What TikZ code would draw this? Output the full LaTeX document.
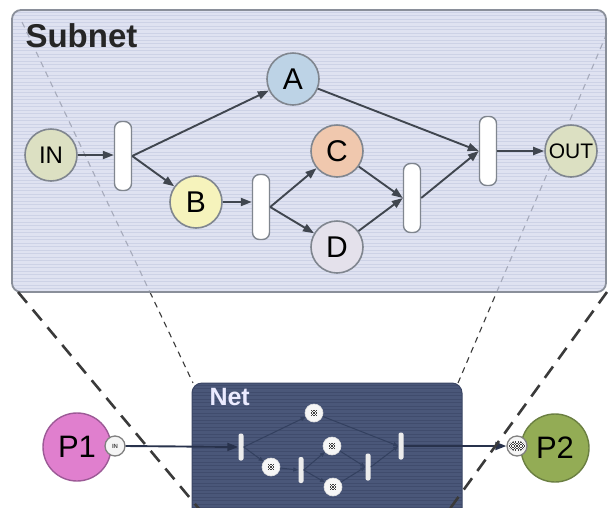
\documentclass[tikz,border=0pt]{standalone}
\usepackage{fontspec}
\setmainfont{Liberation Sans}
\usetikzlibrary{arrows.meta}

\definecolor{subfill}{HTML}{DFE2F1}
\definecolor{substripe}{HTML}{CDD2E6}
\definecolor{subedge}{HTML}{8A8F9A}
\definecolor{netfill}{HTML}{4A5779}
\definecolor{netstripe}{HTML}{404C6D}
\definecolor{netedge}{HTML}{3A4564}
\definecolor{arccol}{HTML}{40464F}
\definecolor{placeedge}{HTML}{80868F}
\definecolor{inoutfill}{HTML}{DCE0C2}
\definecolor{pafill}{HTML}{BDD3E6}
\definecolor{pbfill}{HTML}{F6F3BC}
\definecolor{pcfill}{HTML}{F0C8AE}
\definecolor{pdfill}{HTML}{E4E1EB}
\definecolor{ponefill}{HTML}{E07FCE}
\definecolor{poneedge}{HTML}{9C5A96}
\definecolor{ptwofill}{HTML}{93AC55}
\definecolor{ptwoedge}{HTML}{6B7F42}
\definecolor{netarc}{HTML}{33405F}
\definecolor{linkcol}{HTML}{28324C}
\definecolor{zoomline}{HTML}{3A3A3A}
\definecolor{zoomfaint}{HTML}{A6AABB}

% small checkered token mark: centre, half columns, half rows, cell size
\newcommand\chequermark[4]{%
  \begin{scope}[shift={(#1)}]
    \foreach \i in {-#2,...,#2}{%
      \foreach \j in {-#3,...,#3}{%
        \pgfmathtruncatemacro\chqparity{mod(\i+\j+100,2)}%
        \ifnum\chqparity=0
          \fill[black!75] (\i*#4-#4/2,\j*#4-#4/2) rectangle ++(#4,#4);
        \fi}}
  \end{scope}}

\begin{document}
\begin{tikzpicture}[x=1pt,y=-1pt,
  place/.style={circle, draw=placeedge, line width=1.6pt, minimum size=52pt,
    inner sep=0pt, font=\fontsize{30}{30}\selectfont},
  trans/.style={draw=placeedge, fill=white, line width=1.4pt, rounded corners=7pt,
    minimum width=17pt, minimum height=69pt, inner sep=0pt},
  flow/.style={draw=arccol, line width=1.9pt, -{Triangle[length=11pt,width=8pt]}},
  miniplace/.style={circle, fill=white!93!gray, draw=white!75!gray, line width=0.6pt,
    minimum size=18pt, inner sep=0pt},
  minitrans/.style={fill=white!85!gray, rounded corners=2pt, minimum width=5pt,
    minimum height=27pt, inner sep=0pt},
  miniflow/.style={draw=netarc, line width=1pt, -{Triangle[length=5pt,width=4pt]}},
  link/.style={draw=linkcol, line width=1.9pt, -{Triangle[length=11pt,width=8pt]}},
  thinzoom/.style={dash pattern=on 6pt off 5pt, line width=1.1pt},
  thickzoom/.style={draw=zoomline, dash pattern=on 14pt off 9pt, line width=2.6pt},
  bigplace/.style={circle, line width=1.4pt, minimum size=68pt, inner sep=0pt,
    font=\fontsize{31}{31}\selectfont},
  port/.style={circle, fill=white!92!gray, draw=gray, line width=1.3pt,
    minimum size=20pt, inner sep=0pt}
]
\clip (0,0) rectangle (608,507);

% ---------- subnet panel ----------
\fill[subfill, rounded corners=9pt] (12,10) rectangle (606,292);
\begin{scope}
  \clip[rounded corners=9pt] (12,10) rectangle (606,292);
  \foreach \y in {12,15.5,...,292} \draw[substripe, line width=0.9pt] (12,\y) -- (606,\y);
\end{scope}

% projection lines (thin), faint where they cross the panel
\coordinate (sl) at (22,22);
\coordinate (sr) at (607,33);
\coordinate (nl) at (193,383);
\coordinate (nr) at (458,383);
\path (sl) -- (nl) coordinate[pos=0.748] (bl);
\path (nr) -- (sr) coordinate[pos=0.26] (br);
\draw[thinzoom, zoomfaint] (sl) -- (bl);
\draw[thinzoom, zoomfaint] (br) -- (sr);
\draw[thinzoom, zoomline] (bl) -- (nl);
\draw[thinzoom, zoomline] (nr) -- (br);

\draw[subedge, line width=1.8pt, rounded corners=9pt] (12,10) rectangle (606,292);
\node[anchor=base west, font=\bfseries\fontsize{33}{33}\selectfont, text=black!85]
  (subtitle) at (22,47) {Subnet};

% places and transitions of the subnet
\node[place, fill=inoutfill, font=\fontsize{24}{24}\selectfont] (in) at (51,155) {IN};
\node[trans] (t1) at (123,156) {};
\node[place, fill=pafill] (a) at (293,79) {A};
\node[place, fill=pbfill] (b) at (196,202) {B};
\node[trans, minimum height=65pt] (t2) at (261,207) {};
\node[place, fill=pcfill] (c) at (337,151) {C};
\node[place, fill=pdfill] (d) at (337,247) {D};
\node[trans] (t3) at (412,198) {};
\node[trans] (t4) at (488,151) {};
\node[place, fill=inoutfill, font=\fontsize{21}{21}\selectfont] (out) at (571,151) {OUT};

\draw[flow] (in.east) -- (in.east -| t1.west);
\draw[flow] (t1.east) -- (a);
\draw[flow] (t1.east) -- (b);
\draw[flow] (b.east) -- (b.east -| t2.west);
\draw[flow] (t2.east) -- (c);
\draw[flow] (t2.east) -- (d);
\draw[flow] (c) -- (t3.west);
\draw[flow] (d) -- (t3.west);
\draw[flow] (t3.east) -- (t4.west);
\draw[flow] (a) -- (t4.west);
\draw[flow] (t4.east) -- (out);

% ---------- net panel ----------
\fill[netfill, rounded corners=10pt] (192,383) rectangle (462,525);
\begin{scope}
  \clip[rounded corners=10pt] (192,383) rectangle (462,525);
  \foreach \y in {385,388.5,...,525} \draw[netstripe, line width=0.9pt] (192,\y) -- (462,\y);
\end{scope}
\draw[netedge, line width=1pt, rounded corners=10pt] (192,383) rectangle (462,525);
\node[anchor=base west, font=\bfseries\fontsize{25}{25}\selectfont, text=white!92!blue]
  (nettitle) at (206,405) {Net};

\node[minitrans] (m1) at (241,447) {};
\node[miniplace] (ma) at (314,413) {};
\node[miniplace] (mb) at (271,467) {};
\node[minitrans, minimum height=26pt] (m2) at (301,470) {};
\node[miniplace] (mc) at (332,446) {};
\node[miniplace] (md) at (333,487) {};
\node[minitrans] (m3) at (368,467) {};
\node[minitrans] (m4) at (401,446) {};
\foreach \p in {ma,mb,mc,md}{\chequermark{\p}{2}{2}{1.2}}

\draw[miniflow] (m1.east) -- (ma);
\draw[miniflow] (m1.east) -- (mb);
\draw[miniflow] (mb) -- (m2.west);
\draw[miniflow] (m2.east) -- (mc);
\draw[miniflow] (m2.east) -- (md);
\draw[miniflow] (mc) -- (m3.west);
\draw[miniflow] (md) -- (m3.west);
\draw[miniflow] (m3.east) -- (m4.west);
\draw[miniflow] (ma) -- (m4.west);

% ---------- outer places with ports ----------
\node[bigplace, fill=ponefill, draw=poneedge] (p1) at (77,447) {P1};
\node[port, font=\fontsize{6}{6}\selectfont\bfseries, text=black!70] (pin) at (115,446) {IN};
\node[bigplace, fill=ptwofill, draw=ptwoedge] (p2) at (555,448) {P2};
\node[port] (pout) at (517,446) {};
\begin{scope}
  \clip (pout) ellipse (8.5pt and 5pt);
  \chequermark{pout}{7}{3}{1.3}
\end{scope}

\draw[link] (pin.east) -- (m1.west);
\draw[link] (m4.east) -- (pout.west);

% projection lines (thick) from the panel corners
\coordinate (cl) at (18,292);
\coordinate (cr) at (607,292);
\coordinate (dl) at (200,510);
\coordinate (dr) at (449,510);
\draw[thickzoom] (cl) -- (dl);
\draw[thickzoom] (cr) -- (dr);
\end{tikzpicture}
\end{document}
